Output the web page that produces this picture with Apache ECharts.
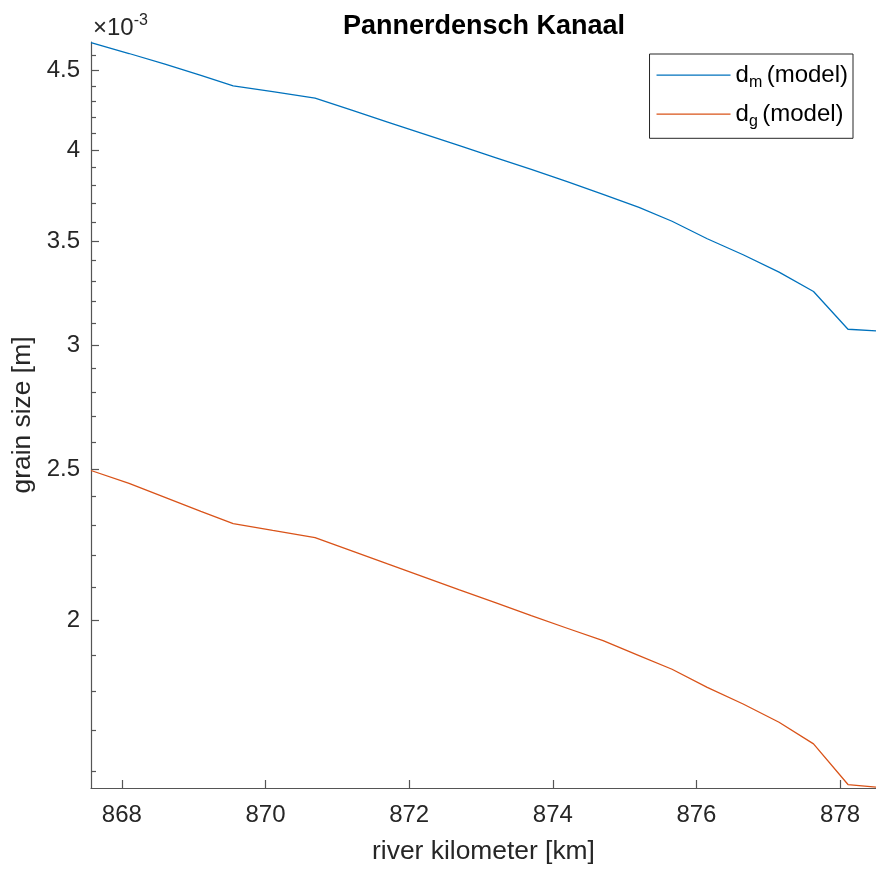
<!DOCTYPE html>
<html>
<head>
<meta charset="utf-8">
<title>Pannerdensch Kanaal</title>
<script src="https://cdn.jsdelivr.net/npm/echarts@6/dist/echarts.min.js"></script>
<style>
  html, body { margin: 0; padding: 0; background: #fff; }
  #chart { width: 876px; height: 870px; }
</style>
</head>
<body>
<div id="chart"></div>
<script>
// River kilometre positions of the model output
const KM = [867.57, 868.1, 868.6, 869.1, 869.55, 870.1, 870.69, 871.2, 871.7, 872.2,
            872.7, 873.2, 873.7, 874.2, 874.7, 875.2, 875.66, 876.15, 876.65, 877.15,
            877.63, 878.11, 878.5];

// Mean grain size d_m [m]
const D_M = [4.690e-3, 4.615e-3, 4.543e-3, 4.468e-3, 4.400e-3, 4.362e-3, 4.321e-3, 4.245e-3,
             4.171e-3, 4.099e-3, 4.028e-3, 3.958e-3, 3.889e-3, 3.820e-3, 3.749e-3, 3.677e-3,
             3.603e-3, 3.511e-3, 3.429e-3, 3.342e-3, 3.248e-3, 3.072e-3, 3.065e-3];

// Geometric mean grain size d_g [m]
const D_G = [2.494e-3, 2.447e-3, 2.397e-3, 2.348e-3, 2.306e-3, 2.283e-3, 2.259e-3, 2.215e-3,
             2.173e-3, 2.132e-3, 2.091e-3, 2.052e-3, 2.013e-3, 1.976e-3, 1.940e-3, 1.898e-3,
             1.860e-3, 1.811e-3, 1.767e-3, 1.720e-3, 1.666e-3, 1.569e-3, 1.563e-3];

const SERIES_NAMES = ['d_m (model)', 'd_g (model)'];

// Axis ranges and tick positions
const X_RANGE = [867.57, 878.5];
const X_TICKS = [868, 870, 872, 874, 876, 878];
const Y_RANGE = [1.561e-3, 4.694e-3];
const Y_MAJOR = [2.0e-3, 2.5e-3, 3.0e-3, 3.5e-3, 4.0e-3, 4.5e-3];
const Y_MINOR = [1.6e-3, 1.7e-3, 1.8e-3, 1.9e-3, 2.1e-3, 2.2e-3, 2.3e-3, 2.4e-3,
                 2.6e-3, 2.7e-3, 2.8e-3, 2.9e-3, 3.1e-3, 3.2e-3, 3.3e-3, 3.4e-3,
                 3.6e-3, 3.7e-3, 3.8e-3, 3.9e-3, 4.1e-3, 4.2e-3, 4.3e-3, 4.4e-3, 4.6e-3];

const FONT = '"Liberation Sans", Arial, Helvetica, sans-serif';
const AXIS_COLOR = '#555555';
const TEXT_COLOR = '#262626';

const chart = echarts.init(document.getElementById('chart'), null, { renderer: 'canvas' });

// "d_m (model)" -> d with a lowered subscript m
function legendLabel(name) {
  const m = name.match(/^(\w)_(\w) (.*)$/);
  return '{b|' + m[1] + '}{s|' + m[2] + ' }{b|' + m[3] + '}';
}

chart.setOption({
  animation: false,
  backgroundColor: '#ffffff',
  textStyle: { fontFamily: FONT },
  title: {
    text: 'Pannerdensch Kanaal',
    left: 343,
    top: 13,
    padding: 0,
    textStyle: { fontFamily: FONT, fontSize: 27, fontWeight: 'bold', color: '#000000' }
  },
  graphic: [{
    type: 'text',
    left: 93,
    top: 13,
    style: {
      text: '{a|×10}{p|-3}',
      rich: {
        a: { fontFamily: FONT, fontSize: 24, lineHeight: 30, fill: TEXT_COLOR },
        p: { fontFamily: FONT, fontSize: 16, lineHeight: 17, verticalAlign: 'top', fill: TEXT_COLOR }
      }
    }
  }],
  legend: {
    orient: 'vertical',
    right: 23,
    top: 54,
    padding: [9.2, 5, 9.1, 7],
    itemGap: 12,
    itemWidth: 74,
    itemHeight: 1.3,
    icon: 'rect',
    borderColor: '#262626',
    borderWidth: 1,
    backgroundColor: '#ffffff',
    data: SERIES_NAMES,
    formatter: legendLabel,
    textStyle: {
      color: '#000000',
      rich: {
        b: { fontFamily: FONT, fontSize: 24, lineHeight: 30, color: '#000000' },
        s: { fontFamily: FONT, fontSize: 16, lineHeight: 8.4, verticalAlign: 'bottom', color: '#000000' }
      }
    }
  },
  grid: { left: 91, right: 0, top: 42, bottom: 80, containLabel: false },
  xAxis: {
    type: 'value',
    min: X_RANGE[0],
    max: X_RANGE[1],
    name: 'river kilometer [km]',
    nameLocation: 'middle',
    nameGap: 51,
    nameTextStyle: { fontFamily: FONT, fontSize: 26.4, color: TEXT_COLOR },
    axisLine: { show: true, lineStyle: { color: AXIS_COLOR, width: 1.2 } },
    axisTick: { show: true, inside: true, length: 8, customValues: X_TICKS,
                lineStyle: { color: AXIS_COLOR, width: 1.2 } },
    axisLabel: { customValues: X_TICKS, fontFamily: FONT, fontSize: 24, color: TEXT_COLOR, margin: 15.5 },
    splitLine: { show: false }
  },
  yAxis: [{
    type: 'log',
    logBase: 10,
    min: Y_RANGE[0],
    max: Y_RANGE[1],
    name: 'grain size [m]',
    nameLocation: 'middle',
    nameGap: 52,
    nameRotate: 90,
    nameTextStyle: { fontFamily: FONT, fontSize: 26.4, color: TEXT_COLOR },
    axisLine: { show: true, lineStyle: { color: AXIS_COLOR, width: 1.2 } },
    axisTick: { show: true, inside: true, length: 8, customValues: Y_MAJOR,
                lineStyle: { color: AXIS_COLOR, width: 1.2 } },
    axisLabel: {
      customValues: Y_MAJOR,
      fontFamily: FONT, fontSize: 24, color: TEXT_COLOR, margin: 11,
      formatter: v => String(Math.round(v * 1e4) / 10)
    },
    splitLine: { show: false },
    minorTick: { show: false }
  }, {
    // minor ticks at every 0.1e-3 m
    type: 'log',
    logBase: 10,
    min: Y_RANGE[0],
    max: Y_RANGE[1],
    position: 'left',
    axisLine: { show: false },
    axisTick: { show: true, inside: true, length: 5, customValues: Y_MINOR,
                lineStyle: { color: AXIS_COLOR, width: 1.2 } },
    axisLabel: { show: false },
    splitLine: { show: false }
  }],
  series: [{
    name: SERIES_NAMES[0],
    type: 'line',
    yAxisIndex: 0,
    symbol: 'none',
    color: '#0072BD',
    lineStyle: { color: '#0072BD', width: 1.3 },
    data: KM.map((k, i) => [k, D_M[i]])
  }, {
    name: SERIES_NAMES[1],
    type: 'line',
    yAxisIndex: 0,
    symbol: 'none',
    color: '#D95319',
    lineStyle: { color: '#D95319', width: 1.3 },
    data: KM.map((k, i) => [k, D_G[i]])
  }]
});
</script>
</body>
</html>
